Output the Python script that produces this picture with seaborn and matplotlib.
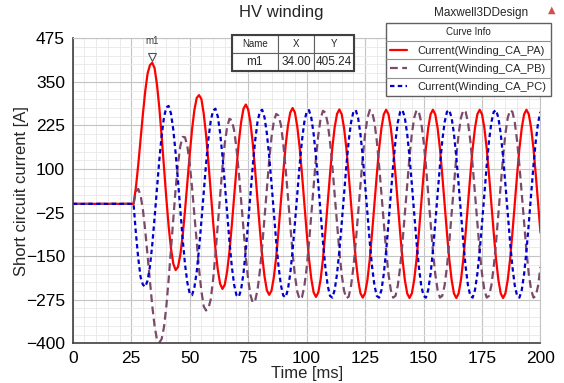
import matplotlib
matplotlib.use("Agg")
import pandas as pd
import matplotlib.pyplot as plt
import seaborn as sns
from matplotlib.lines import Line2D
from matplotlib.patches import Rectangle
from matplotlib.ticker import MultipleLocator
from matplotlib.transforms import ScaledTranslation

# Sample times: flat before the fault, then one sample per ms from 26 to 200 ms
time_ms = [0] + list(range(26, 201))

# Current(Winding_CA_PA), values [A]
current_pa = [
    0,
    0, 47, 112, 185,
    258, 324, 374, 398, 405, 389, 343, 277, 195, 106,
    17, -64, -128, -172, -190, -181, -146, -91, -19, 61,
    141, 213, 269, 304, 312, 301, 259, 198, 120, 35,
    -50, -128, -188, -229, -244, -232, -194, -137, -62, 20,
    102, 177, 235, 273, 285, 271, 232, 172, 95, 11,
    -72, -149, -208, -248, -261, -249, -210, -152, -76, 7,
    89, 165, 224, 262, 275, 262, 222, 163, 87, 4,
    -80, -156, -215, -254, -267, -254, -216, -157, -81, 2,
    85, 161, 220, 258, 271, 257, 218, 159, 83, 1,
    -82, -158, -217, -256, -269, -256, -218, -159, -83, 0,
    83, 159, 218, 257, 270, 257, 218, 159, 83, 0,
    -83, -159, -218, -257, -270, -257, -218, -159, -83, 0,
    83, 159, 218, 257, 270, 257, 218, 159, 83, 0,
    -83, -159, -218, -257, -270, -257, -218, -159, -83, 0,
    83, 159, 218, 257, 270, 257, 218, 159, 83, 0,
    -83, -159, -218, -257, -270, -257, -218, -159, -83, 0,
    83, 159, 218, 257, 270, 257, 218, 159, 83, 0,
    -83,
]

# Current(Winding_CA_PB)
current_pb = [
    0,
    0, 35, 43, 25,
    -17, -77, -149, -224, -293, -351, -389, -398, -388, -354,
    -295, -217, -130, -40, 44, 115, 166, 192, 191, 165,
    116, 48, -30, -111, -187, -250, -294, -306, -300, -274,
    -218, -145, -61, 24, 105, 173, 220, 244, 240, 211,
    160, 90, 9, -74, -152, -217, -262, -284, -278, -247,
    -193, -122, -39, 46, 125, 192, 238, 258, 253, 227,
    174, 103, 22, -62, -141, -206, -252, -274, -268, -238,
    -185, -113, -31, 53, 132, 198, 245, 267, 262, 232,
    179, 108, 26, -58, -137, -203, -249, -271, -266, -235,
    -182, -111, -29, 55, 134, 200, 246, 269, 264, 234,
    181, 110, 28, -56, -135, -201, -247, -269, -264, -234,
    -181, -110, -28, 56, 135, 201, 247, 269, 264, 234,
    181, 110, 28, -56, -135, -201, -247, -269, -264, -234,
    -181, -110, -28, 56, 135, 201, 247, 269, 264, 234,
    181, 110, 28, -56, -135, -201, -247, -269, -264, -234,
    -181, -110, -28, 56, 135, 201, 247, 269, 264, 234,
    181, 110, 28, -56, -135, -201, -247, -269, -264, -234,
    -181,
]

# Current(Winding_CA_PC)
current_pc = [
    0,
    0, -84, -156, -210,
    -232, -238, -220, -180, -117, -39, 44, 125, 195, 248,
    277, 281, 259, 212, 145, 66, -19, -101, -173, -226,
    -257, -262, -240, -195, -129, -50, 33, 115, 186, 238,
    268, 273, 251, 204, 138, 59, -25, -107, -179, -232,
    -262, -267, -245, -199, -133, -54, 29, 111, 182, 235,
    265, 270, 248, 202, 136, 57, -27, -109, -180, -233,
    -263, -268, -246, -200, -134, -55, 29, 110, 181, 234,
    264, 269, 247, 201, 135, 56, -28, -110, -181, -234,
    -264, -269, -247, -201, -135, -56, 28, 110, 181, 234,
    264, 269, 247, 201, 135, 56, -28, -110, -181, -234,
    -264, -269, -247, -201, -135, -56, 28, 110, 181, 234,
    264, 269, 247, 201, 135, 56, -28, -110, -181, -234,
    -264, -269, -247, -201, -135, -56, 28, 110, 181, 234,
    264, 269, 247, 201, 135, 56, -28, -110, -181, -234,
    -264, -269, -247, -201, -135, -56, 28, 110, 181, 234,
    264, 269, 247, 201, 135, 56, -28, -110, -181, -234,
    -264, -269, -247, -201, -135, -56, 28, 110, 181, 234,
    264,
]

curve_names = ["Current(Winding_CA_PA)", "Current(Winding_CA_PB)", "Current(Winding_CA_PC)"]
y_ticks = [-400, -275, -150, -25, 100, 225, 350, 475]

# marker m1
marker_name = "m1"
marker_x = 34.00
marker_y = 405.24

df = pd.DataFrame({"Time": time_ms,
                   curve_names[0]: current_pa,
                   curve_names[1]: current_pb,
                   curve_names[2]: current_pc})

sns.set_theme(style="white")
plt.rcParams['font.family'] = ['Liberation Sans', 'DejaVu Sans']

fig = plt.figure(figsize=(5.64, 3.83), dpi=100)
ax = fig.add_axes([0.129, 0.1037, 0.8293, 0.7963])

styles = [("#ff0000", "-"), ("#7b4a6b", (0, (3.5, 2))), ("#0000cd", (0, (2, 1.5)))]
for name, (color, ls) in zip(curve_names, styles):
    sns.lineplot(data=df, x="Time", y=name, color=color, linestyle=ls, lw=1.6,
                 label=name, ax=ax)

ax.set_xlim(0, 200)
ax.set_ylim(-400, 475)
ax.xaxis.set_major_locator(MultipleLocator(25))
ax.xaxis.set_minor_locator(MultipleLocator(5))
ax.set_yticks(y_ticks)
ax.yaxis.set_minor_locator(MultipleLocator(25))
ax.grid(which='major', color='#c4c4c4', lw=0.8)
ax.grid(which='minor', color='#e8e8e8', lw=0.6)
ax.set_axisbelow(True)

for side in ['left', 'bottom']:
    ax.spines[side].set_color('#404040')
    ax.spines[side].set_linewidth(1.2)
for side in ['top', 'right']:
    ax.spines[side].set_color('#c4c4c4')
    ax.spines[side].set_linewidth(0.8)

ax.tick_params(which='major', direction='inout', length=7, width=1, color='#404040',
               labelsize=12.5, pad=2, labelcolor='black')
ax.tick_params(which='minor', direction='inout', length=4, width=0.8, color='#404040')

ax.set_xlabel("Time [ms]", fontsize=12, labelpad=0)
ax.set_ylabel("Short circuit current [A]", fontsize=12)
ax.yaxis.set_label_coords(-0.094, 0.5)

fig.text(0.498, 0.968, "HV winding", ha='center', va='center', fontsize=12)
fig.text(0.936, 0.966, "Maxwell3DDesign", ha='right', va='center', fontsize=8.5)
fig.text(0.978, 0.974, "\u25b2", ha='center', va='center', fontsize=7, color='#d0504a',
         family=['DejaVu Sans'])

# marker triangle and name above the peak
tri = ax.transData + ScaledTranslation(0, 4 / 72, fig.dpi_scale_trans)
ax.plot([marker_x], [marker_y], marker='v', ms=6, mfc='white', mec='#505050', mew=0.8,
        transform=tri, zorder=5)
ax.annotate(marker_name, xy=(marker_x, marker_y), xytext=(0, 12), textcoords='offset points',
            ha='center', va='bottom', fontsize=7, color='#404040')

# marker table
tbl = ax.table(cellText=[[marker_name, f"{marker_x:.2f}", f"{marker_y:.2f}"]],
               colLabels=["Name", "X", "Y"], colWidths=[0.375, 0.294, 0.326],
               cellLoc='center', bbox=[0.3397, 0.8928, 0.2621, 0.118])
tbl.auto_set_font_size(False)
tbl.set_zorder(6)
for (r, c), cell in tbl.get_celld().items():
    cell.set_edgecolor('#606060')
    cell.set_linewidth(0.8)
    cell.set_facecolor('white')
    cell.get_text().set_fontsize(7 if r == 0 else 8.5)
ax.add_patch(Rectangle((0.3397, 0.8928), 0.2621, 0.118, transform=ax.transAxes, fill=False,
                       ec='#404040', lw=1.5, zorder=7, clip_on=False))

# legend "Curve Info"
handles, labels = ax.get_legend_handles_labels()
leg = ax.legend(handles, labels, title="Curve Info", loc='upper left',
                bbox_to_anchor=(0.684, 0.743, 0.293, 0.196), bbox_transform=fig.transFigure,
                mode='expand', fancybox=False, frameon=True, edgecolor='#606060', framealpha=1,
                fontsize=8, title_fontsize=7, handlelength=1.6, handletextpad=0.9,
                labelspacing=0.75, borderpad=0.35, borderaxespad=0)
leg.get_frame().set_linewidth(1.0)
for y in [40.7, 59.3, 78.3]:
    fig.add_artist(Line2D([385.7 / 564, 551 / 564], [1 - y / 383, 1 - y / 383],
                          color='#909090', lw=0.8))

fig.savefig("out.png", dpi=100)
